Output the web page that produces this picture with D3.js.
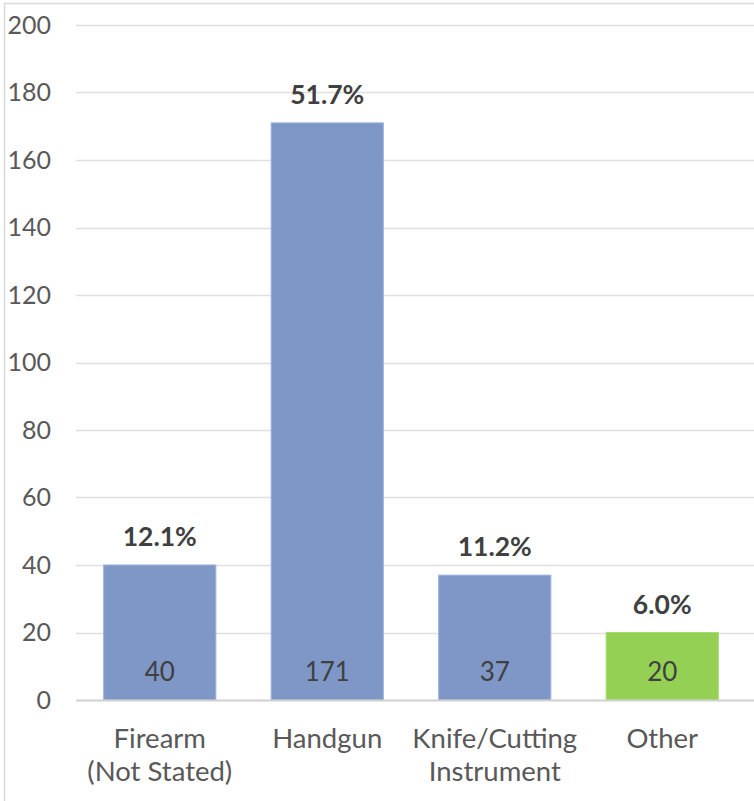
<!DOCTYPE html>
<html>
<head>
<meta charset="utf-8">
<script src="https://cdn.jsdelivr.net/npm/d3@7"></script>
<style>
  html, body { margin: 0; padding: 0; background: #fff; overflow: hidden; }
  svg { display: block; font-family: Lato, "Open Sans", sans-serif; }
</style>
</head>
<body>
<svg id="chart" width="754" height="801"></svg>
<script>
// data
var categories = ["Firearm\n(Not Stated)", "Handgun", "Knife/Cutting\nInstrument", "Other"];
var counts = [40, 171, 37, 20];
var percents = ["12.1%", "51.7%", "11.2%", "6.0%"];
var barColors = ["#7891C4", "#7891C4", "#7891C4", "#8ECE4A"];
var yTicks = [0, 20, 40, 60, 80, 100, 120, 140, 160, 180, 200];

var svg = d3.select("#chart");

// outer chart border (only left/top visible in the crop)
svg.append("rect")
  .attr("x", 4.5)
  .attr("y", 3.5)
  .attr("width", 900)
  .attr("height", 900)
  .attr("fill", "none")
  .attr("stroke", "#D9D9D9")
  .attr("stroke-width", 1.5);

var y = d3.scaleLinear().domain([0, 200]).range([700, 25]);
var x = d3.scaleBand()
  .domain(categories)
  .range([76, 746])
  .paddingInner(0.33)
  .paddingOuter(0.165);

// gridlines
svg.append("g")
  .selectAll("line")
  .data(yTicks.filter(function(d){ return d > 0; }))
  .join("line")
  .attr("x1", 76)
  .attr("x2", 800)
  .attr("y1", function(d){ return Math.round(y(d)) + 0.5; })
  .attr("y2", function(d){ return Math.round(y(d)) + 0.5; })
  .attr("stroke", "#E0E0E0")
  .attr("stroke-width", 1.5);

// y tick labels
var yAxis = d3.axisLeft(y).tickValues(yTicks).tickSize(0).tickPadding(0);
var yg = svg.append("g")
  .attr("transform", "translate(51,0)")
  .call(yAxis);
yg.select(".domain").remove();
yg.selectAll("text")
  .attr("fill", "#595959")
  .style("font-size", "25px")
  .style("font-family", "Lato, sans-serif");

// bars
svg.append("g")
  .selectAll("rect")
  .data(categories)
  .join("rect")
  .attr("x", function(d){ return x(d); })
  .attr("y", function(d, i){ return y(counts[i]); })
  .attr("width", x.bandwidth())
  .attr("height", function(d, i){ return y(0) - y(counts[i]); })
  .attr("fill", function(d, i){ return barColors[i]; })
  .attr("fill-opacity", 0.95)
  .attr("stroke", function(d, i){ return i === 3 ? "#A6DB73" : "#9CB3E0"; })
  .attr("stroke-width", 1);

// axis line
svg.append("line")
  .attr("x1", 76)
  .attr("x2", 800)
  .attr("y1", y(0) + 0.5)
  .attr("y2", y(0) + 0.5)
  .attr("stroke", "#D0D0D0")
  .attr("stroke-width", 2);

// value labels inside bars
svg.append("g")
  .selectAll("text")
  .data(categories)
  .join("text")
  .attr("x", function(d){ return x(d) + x.bandwidth() / 2; })
  .attr("y", y(0) - 19)
  .attr("text-anchor", "middle")
  .attr("fill", "#404040")
  .style("font-size", "26px")
  .text(function(d, i){ return counts[i]; });

// percent labels above bars
svg.append("g")
  .selectAll("text")
  .data(categories)
  .join("text")
  .attr("x", function(d){ return x(d) + x.bandwidth() / 2; })
  .attr("y", function(d, i){ return y(counts[i]) - 19; })
  .attr("text-anchor", "middle")
  .attr("fill", "#404040")
  .style("font-size", "26.5px")
  .style("font-weight", "bold")
  .text(function(d, i){ return percents[i]; });

// category labels
var xAxis = d3.axisBottom(x).tickSize(0).tickPadding(0);
var xg = svg.append("g")
  .attr("transform", "translate(0,748)")
  .call(xAxis);
xg.select(".domain").remove();
xg.selectAll("text")
  .attr("fill", "#595959")
  .attr("dy", null)
  .attr("y", 0)
  .style("font-size", "27.5px")
  .style("font-family", "Lato, sans-serif")
  .each(function(d) {
    var t = d3.select(this);
    var lines = d.split("\n");
    t.text(null);
    lines.forEach(function(l, k) {
      t.append("tspan")
        .attr("x", 0)
        .attr("y", k * 33)
        .text(l);
    });
  });
</script>
</body>
</html>
